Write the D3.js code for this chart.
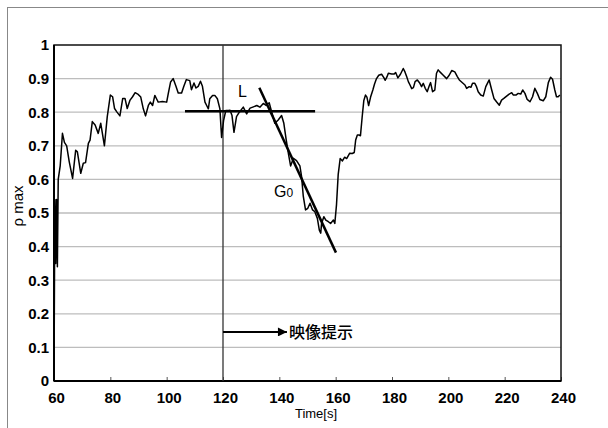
<!DOCTYPE html>
<html>
<head>
<meta charset="utf-8">
<script src="https://cdn.jsdelivr.net/npm/d3@7"></script>
<style>
  html, body { margin: 0; padding: 0; background: #fff; }
  svg { display: block; }
  text { font-family: "Liberation Sans", Arial, sans-serif; fill: #000; }
</style>
</head>
<body>
<svg id="chart" width="608" height="428"></svg>
<script>
// Measured correlation peak ρmax over time
const timeSec = [
  60.0, 60.3, 60.6, 60.9, 61.2, 61.5, 62.2, 63.0, 63.7, 64.5, 65.4, 66.6, 67.7, 68.3, 69.5, 70.4,
  71.2, 72.2, 72.8, 73.6, 74.6, 75.7, 76.6, 77.9, 78.9, 80.0, 80.8, 81.5, 82.3, 83.4, 84.4, 85.2,
  86.0, 87.0, 87.9, 88.8, 89.9, 90.8, 91.7, 92.5, 93.5, 94.2, 95.0, 95.8, 96.4, 97.0, 98.5, 100.0,
  100.6, 101.4, 102.3, 103.3, 104.1, 105.3, 106.1, 107.0, 108.2, 108.8, 109.7, 110.4, 111.2, 112.0,
  112.7, 113.6, 114.2, 114.8, 115.3, 116.3, 117.1, 118.0, 118.9, 119.5, 120.2, 121.0, 122.0, 122.5,
  123.2, 123.9, 124.8, 125.8, 127.2, 128.4, 129.6, 130.8, 132.0, 133.1, 134.3, 135.3, 136.4, 137.3,
  138.4, 139.6, 140.8, 141.6, 142.4, 143.3, 144.0, 145.0, 146.1, 147.3, 147.9, 148.5, 149.3, 150.1,
  150.9, 151.8, 152.6, 153.5, 154.2, 154.7, 155.0, 155.8, 156.5, 157.4, 158.2, 159.2, 159.7, 160.3,
  160.9, 161.6, 162.4, 163.2, 163.9, 165.0, 165.9, 166.6, 167.1, 167.7, 168.3, 168.8, 169.4, 170.0,
  170.6, 171.1, 171.7, 172.4, 173.2, 173.8, 174.5, 175.3, 176.3, 177.1, 177.6, 178.2, 178.7, 179.9,
  180.8, 181.3, 182.1, 183.0, 184.0, 184.6, 185.2, 185.8, 186.4, 187.0, 187.6, 188.2, 189.0, 189.9,
  190.5, 191.1, 191.8, 192.5, 193.2, 193.7, 194.4, 195.2, 195.8, 196.4, 197.0, 198.2, 199.4, 200.3,
  201.2, 202.3, 203.2, 203.9, 204.7, 205.9, 206.5, 207.4, 208.0, 208.6, 209.4, 210.0, 210.6, 211.5,
  212.4, 213.3, 214.5, 215.4, 216.2, 217.1, 218.1, 218.9, 219.7, 220.7, 221.6, 222.5, 223.1, 224.0,
  224.8, 225.7, 226.4, 227.2, 228.0, 229.0, 229.9, 230.7, 231.6, 232.5, 233.7, 234.6, 235.5, 236.3,
  237.0, 237.8, 238.4, 239.0, 239.6
];
const rhoMax = [
  0.00, 0.54, 0.35, 0.54, 0.34, 0.60, 0.64, 0.737, 0.71, 0.70, 0.653, 0.603, 0.687, 0.682, 0.618, 0.648,
  0.65, 0.707, 0.717, 0.772, 0.762, 0.737, 0.767, 0.70, 0.786, 0.851, 0.846, 0.811, 0.801, 0.789, 0.841, 0.841,
  0.811, 0.836, 0.846, 0.858, 0.853, 0.845, 0.81, 0.789, 0.82, 0.83, 0.82, 0.85, 0.84, 0.83, 0.832, 0.83,
  0.857, 0.89, 0.90, 0.877, 0.857, 0.857, 0.877, 0.897, 0.894, 0.867, 0.887, 0.872, 0.877, 0.892,
  0.877, 0.83, 0.82, 0.81, 0.84, 0.85, 0.85, 0.84, 0.81, 0.725, 0.775, 0.805, 0.805, 0.806,
  0.79, 0.74, 0.787, 0.80, 0.815, 0.795, 0.812, 0.816, 0.82, 0.815, 0.826, 0.82, 0.828, 0.80,
  0.767, 0.777, 0.79, 0.767, 0.72, 0.673, 0.64, 0.663, 0.656, 0.64, 0.608, 0.55, 0.509, 0.514,
  0.529, 0.509, 0.504, 0.484, 0.449, 0.44, 0.469, 0.489, 0.479, 0.474, 0.469, 0.479, 0.469, 0.525,
  0.615, 0.662, 0.655, 0.666, 0.662, 0.678, 0.677, 0.68, 0.717, 0.732, 0.732, 0.73, 0.785, 0.835,
  0.851, 0.845, 0.82, 0.845, 0.866, 0.884, 0.90, 0.91, 0.913, 0.903, 0.895, 0.905, 0.916, 0.914,
  0.914, 0.918, 0.902, 0.913, 0.93, 0.92, 0.906, 0.891, 0.881, 0.87, 0.873, 0.891, 0.896, 0.886,
  0.876, 0.886, 0.871, 0.861, 0.878, 0.888, 0.861, 0.866, 0.916, 0.926, 0.92, 0.91, 0.90, 0.91,
  0.924, 0.92, 0.906, 0.896, 0.89, 0.881, 0.871, 0.876, 0.874, 0.886, 0.886, 0.876, 0.861, 0.851,
  0.848, 0.876, 0.896, 0.866, 0.841, 0.831, 0.821, 0.836, 0.841, 0.848, 0.854, 0.858, 0.851, 0.851,
  0.856, 0.854, 0.866, 0.856, 0.838, 0.831, 0.846, 0.871, 0.856, 0.838, 0.834, 0.846, 0.888, 0.904,
  0.898, 0.866, 0.846, 0.846, 0.851
];

// Axis ticks
const xTicks = [60, 80, 100, 120, 140, 160, 180, 200, 220, 240];
const yTicks = [0, 0.1, 0.2, 0.3, 0.4, 0.5, 0.6, 0.7, 0.8, 0.9, 1];

// Fitted annotation lines: level L and slope G0
const levelL = { t0: 106.5, t1: 152.7, v: 0.803 };
const slopeG0 = { t0: 132.9, v0: 0.873, t1: 160.1, v1: 0.382 };
const stimulusStart = 120;   // video presentation starts
const arrowTip = 142.7;      // arrow tip position on the time axis
const arrowLevel = 0.146;

const svg = d3.select("#chart");
const margin = { left: 54, top: 45, right: 47, bottom: 47 };
const W = 608 - margin.left - margin.right;
const H = 428 - margin.top - margin.bottom;

// Outer frame edges
svg.append("line").attr("x1", 7.5).attr("x2", 7.5).attr("y1", 7).attr("y2", 428)
  .attr("stroke", "#888").attr("stroke-width", 1);
svg.append("line").attr("x1", 7).attr("x2", 608).attr("y1", 7.5).attr("y2", 7.5)
  .attr("stroke", "#888").attr("stroke-width", 1);

const g = svg.append("g").attr("transform", `translate(${margin.left},${margin.top})`);

const x = d3.scaleLinear().domain([60, 240]).range([0, W]);
const y = d3.scaleLinear().domain([0, 1]).range([H, 0]);

const tickFont = "15px";

// Horizontal gridlines
g.append("g")
  .selectAll("line")
  .data(yTicks.filter(d => d > 0 && d < 1))
  .join("line")
  .attr("x1", 0).attr("x2", W)
  .attr("y1", d => y(d)).attr("y2", d => y(d))
  .attr("stroke", "#bdbdbd").attr("stroke-width", 1.3);

// Y axis labels
const yAxis = d3.axisLeft(y).tickValues(yTicks).tickSize(0).tickPadding(5)
  .tickFormat(d => d3.format("~g")(d));
const yg = g.append("g").call(yAxis);
yg.select(".domain").remove();
yg.selectAll("text").style("font-size", tickFont).style("font-weight", "bold")
  .style("font-family", "Liberation Sans, Arial, sans-serif");

// X axis with inward ticks
const xAxis = d3.axisBottom(x).tickValues(xTicks).tickSizeInner(-4).tickSizeOuter(0).tickPadding(11);
const xg = g.append("g").attr("transform", `translate(0,${H})`).call(xAxis);
xg.select(".domain").remove();
xg.selectAll(".tick line").attr("stroke", "#555").attr("stroke-width", 1);
xg.selectAll("text").style("font-size", tickFont).style("font-weight", "bold")
  .style("font-family", "Liberation Sans, Arial, sans-serif")
  .attr("dx", "2");

// Plot frame
g.append("rect").attr("x", 0).attr("y", 0).attr("width", W).attr("height", H)
  .attr("fill", "none").attr("stroke", "#111").attr("stroke-width", 1.5);
g.append("line").attr("x1", 0).attr("x2", 0).attr("y1", 0).attr("y2", H)
  .attr("stroke", "#000").attr("stroke-width", 2);
g.append("line").attr("x1", 0).attr("x2", W).attr("y1", H).attr("y2", H)
  .attr("stroke", "#000").attr("stroke-width", 2);

// Stimulus onset marker
g.append("line")
  .attr("x1", x(stimulusStart)).attr("x2", x(stimulusStart))
  .attr("y1", 0).attr("y2", H)
  .attr("stroke", "#333").attr("stroke-width", 1.3);

// Data series
const series = timeSec.map((t, i) => [t, rhoMax[i]]);
g.append("path")
  .datum(series)
  .attr("fill", "none")
  .attr("stroke", "#000")
  .attr("stroke-width", 1.5)
  .attr("stroke-linejoin", "round")
  .attr("d", d3.line().x(d => x(d[0])).y(d => y(d[1])));

// Level line L
g.append("line")
  .attr("x1", x(levelL.t0)).attr("x2", x(levelL.t1))
  .attr("y1", y(levelL.v)).attr("y2", y(levelL.v))
  .attr("stroke", "#000").attr("stroke-width", 2.5);

// Slope line G0
g.append("line")
  .attr("x1", x(slopeG0.t0)).attr("y1", y(slopeG0.v0))
  .attr("x2", x(slopeG0.t1)).attr("y2", y(slopeG0.v1))
  .attr("stroke", "#000").attr("stroke-width", 2.5);

g.append("text")
  .attr("x", x(125.3)).attr("y", y(0.845))
  .style("font-size", "16px")
  .text("L");

const gLabel = g.append("text")
  .attr("x", x(138.1)).attr("y", y(0.548))
  .style("font-size", "16px");
gLabel.append("tspan").text("G");
gLabel.append("tspan").style("font-size", "12px").text("0");

// Arrow marking the start of video presentation
svg.append("defs").append("marker")
  .attr("id", "arrowHead")
  .attr("viewBox", "0 0 10 10")
  .attr("refX", 10).attr("refY", 5)
  .attr("markerWidth", 11).attr("markerHeight", 9)
  .attr("markerUnits", "userSpaceOnUse")
  .attr("orient", "auto")
  .append("path").attr("d", "M0,0 L10,5 L0,10 Z").attr("fill", "#000");

g.append("line")
  .attr("x1", x(stimulusStart)).attr("x2", x(arrowTip))
  .attr("y1", y(arrowLevel)).attr("y2", y(arrowLevel))
  .attr("stroke", "#000").attr("stroke-width", 2)
  .attr("marker-end", "url(#arrowHead)");

g.append("text")
  .attr("x", x(arrowTip) + 2)
  .attr("y", y(arrowLevel))
  .attr("dy", "0.36em")
  .style("font-family", "'Noto Sans CJK JP', sans-serif")
  .style("font-size", "16px")
  .style("font-weight", "500")
  .text("映像提示");

// Axis titles
g.append("text")
  .attr("x", 262).attr("y", H + 37)
  .attr("text-anchor", "middle")
  .style("font-size", "13px")
  .text("Time[s]");

g.append("text")
  .attr("transform", `translate(${18 - margin.left},${206 - margin.top}) rotate(-90)`)
  .attr("text-anchor", "middle")
  .attr("dy", "0.35em")
  .style("font-size", "15px")
  .text("ρ max");
</script>
</body>
</html>
